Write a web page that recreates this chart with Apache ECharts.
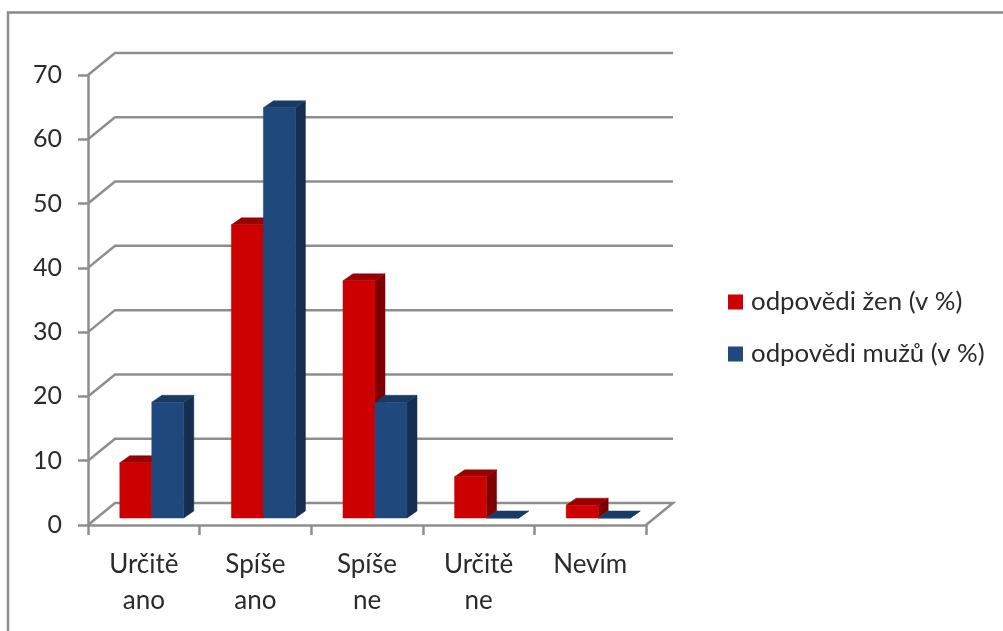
<!DOCTYPE html>
<html><head><meta charset="utf-8">
<style>html,body{margin:0;padding:0;background:#fff}#c{width:1003px;height:631px}</style>
<script src="https://cdn.jsdelivr.net/npm/echarts@6/dist/echarts.min.js"></script>
</head><body><div id="c"></div>
<script>
const categories = ['Určitě\nano', 'Spíše\nano', 'Spíše\nne', 'Určitě\nne', 'Nevím'];
const zeny = [8.6, 45.6, 36.9, 6.4, 2];
const muzi = [18, 63.8, 18, 0, 0];
const yTicks = [0, 10, 20, 30, 40, 50, 60, 70];
const FONT = 'Lato, "Open Sans", sans-serif';
const GRAY = '#8e8e8e';
const WALL = [27, -22];
const FRONT = [8, -7];
const DEPTH = [10, -7];
const BAR_W = 32;

function poly(points, fill) {
  return { type: 'polygon', shape: { points }, style: { fill, stroke: fill, lineWidth: 0.5 } };
}
function barSeries(name, values, front, top, side) {
  return {
    name, type: 'custom', z: 5,
    itemStyle: { color: front },
    data: values.map((v, i) => [i, v]),
    renderItem(params, api) {
      const i = api.value(0), v = api.value(1);
      const isFirst = name === 'odpovědi žen (v %)';
      const c = api.coord([i, v]);
      const c0 = api.coord([i, 0]);
      const x0 = c[0] + FRONT[0] + (isFirst ? -BAR_W : 0);
      const x1 = x0 + BAR_W;
      const yt = c[1] + FRONT[1], yb = c0[1] + FRONT[1];
      const dx = DEPTH[0], dy = DEPTH[1];
      return { type: 'group', children: [
        poly([[x1, yb], [x1 + dx, yb + dy], [x1 + dx, yt + dy], [x1, yt]], side),
        poly([[x0, yt], [x1, yt], [x1 + dx, yt + dy], [x0 + dx, yt + dy]], top),
        poly([[x0, yb], [x1, yb], [x1, yt], [x0, yt]], front)
      ]};
    }
  };
}
const chart = echarts.init(document.getElementById('c'), null, { renderer: 'canvas' });
chart.setOption({
  animation: false,
  backgroundColor: '#fff',
  grid: { left: 88, top: 75, width: 558, height: 450 },
  graphic: [{ type: 'polyline', silent: true, shape: { points: [[8, 631], [8, 12.5], [1003, 12.5]] },
    style: { stroke: '#8a8a8a', lineWidth: 2.5, fill: null } }],
  legend: {
    left: 723, top: 284, orient: 'vertical', itemWidth: 15, itemHeight: 15, itemGap: 26,
    data: [{ name: 'odpovědi žen (v %)', icon: 'rect' }, { name: 'odpovědi mužů (v %)', icon: 'rect' }],
    textStyle: { fontFamily: FONT, fontSize: 25.8, color: '#2b2b2b', padding: [0, 0, 0, 3] },
    selectedMode: false
  },
  xAxis: {
    type: 'category', data: categories, boundaryGap: true,
    axisLine: { lineStyle: { color: GRAY, width: 2.5 } },
    axisTick: { show: true, alignWithLabel: false, length: 10, lineStyle: { color: GRAY, width: 2.5 } },
    axisLabel: { fontFamily: FONT, fontSize: 26, color: '#2b2b2b', lineHeight: 36, margin: 22, interval: 0 }
  },
  yAxis: {
    type: 'value', min: 0, max: 70, interval: 10,
    axisLine: { show: true, lineStyle: { color: GRAY, width: 2.5 } },
    axisTick: { show: true, length: 10, lineStyle: { color: GRAY, width: 2.5 } },
    axisLabel: { fontFamily: FONT, fontSize: 25, color: '#2b2b2b', margin: 26 },
    splitLine: { show: false }
  },
  series: [
    {
      type: 'custom', z: 1, silent: true, name: 'mřížka',
      data: yTicks.map(v => [0, v]),
      renderItem(params, api) {
        const v = api.value(1);
        const band = api.size([1, 0])[0];
        const p = api.coord([0, v]);
        const xl = p[0] - band / 2;
        const xr = xl + band * categories.length;
        const y = p[1];
        const pts = [[xl, y], [xl + WALL[0], y + WALL[1]], [xr + WALL[0], y + WALL[1]]];
        if (v === 0) pts.push([xr, y]);
        return { type: 'polyline', shape: { points: pts },
          style: { stroke: GRAY, lineWidth: 2.5, fill: null } };
      }
    },
    barSeries('odpovědi žen (v %)', zeny, '#cc0000', '#990000', '#7f0000'),
    barSeries('odpovědi mužů (v %)', muzi, '#1f497d', '#183a63', '#152e50')
  ]
});
</script></body></html>
